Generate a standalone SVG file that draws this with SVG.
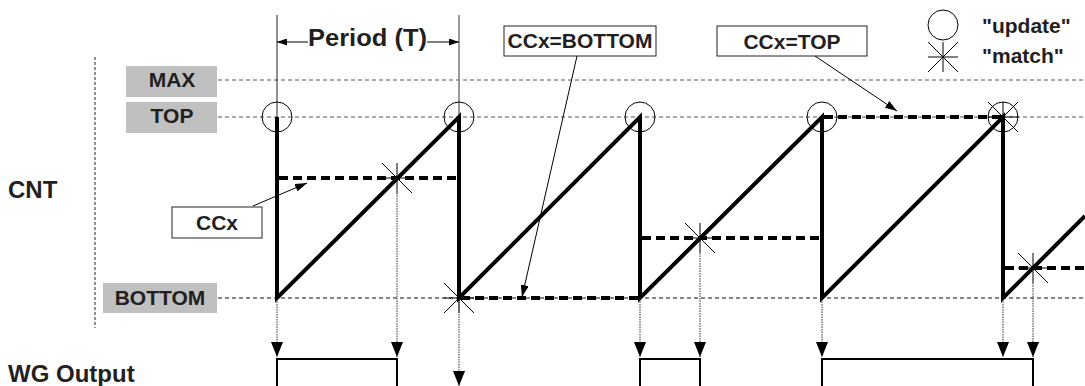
<svg xmlns="http://www.w3.org/2000/svg" width="1085" height="386" viewBox="0 0 1085 386">
<style>
text{font-family:"Liberation Sans",Arial,sans-serif;font-weight:bold;fill:#231f20}
.lbl{font-size:21px;text-anchor:middle}
.big{font-size:24px}
.gbox{fill:#c0c0c0;stroke:none}
.wbox{fill:#fff;stroke:#222;stroke-width:1}
.guide{stroke:#555;stroke-width:1;stroke-dasharray:4 3;fill:none}
.guideb{stroke:#111;stroke-width:1;stroke-dasharray:4 3;fill:none}
.wave{stroke:#000;stroke-width:4;fill:none;stroke-linejoin:miter;stroke-miterlimit:3}
.ccx{stroke:#000;stroke-width:4;stroke-dasharray:9 5;fill:none}
.thin{stroke:#000;stroke-width:1;fill:none}
.drop{stroke:#333;stroke-width:1;stroke-dasharray:1.5 1;fill:none}
.pulse{stroke:#000;stroke-width:2;fill:none}
.upd{stroke:#000;stroke-width:1;fill:none}
</style>
<defs>
<marker id="ah" viewBox="0 0 15 12" refX="15" refY="6" markerWidth="15" markerHeight="12" markerUnits="userSpaceOnUse" orient="auto"><path d="M0,0 L15,6 L0,12 z" fill="#000"/></marker>
<marker id="as" viewBox="0 0 12 8" refX="12" refY="4" markerWidth="12" markerHeight="8" markerUnits="userSpaceOnUse" orient="auto"><path d="M0,0 L12,4 L0,8 z" fill="#000"/></marker>
<marker id="ap" viewBox="0 0 10 7" refX="10" refY="3.5" markerWidth="10" markerHeight="7" markerUnits="userSpaceOnUse" orient="auto"><path d="M0,0 L10,3.5 L0,7 z" fill="#000"/></marker>
<g id="star"><path d="M-15,-15 L15,15 M-15,15 L15,-15 M0,-15 V15 M-15,0 H15" stroke="#000" stroke-width="1" fill="none"/></g>
</defs>

<!-- axis separator -->
<path d="M95,57 V328" stroke="#222" stroke-width="1" stroke-dasharray="3 2" fill="none"/>

<g id="label-cnt"><text class="big" x="8" y="198" font-size="23">CNT</text></g>
<g id="label-wg"><text class="big" x="8" y="382" font-size="25">WG Output</text></g>

<g id="level-max"><rect class="gbox" x="126" y="66" width="91" height="31"/><text class="lbl" x="172" y="87">MAX</text></g>
<g id="level-top"><rect class="gbox" x="126" y="102" width="91" height="31"/><text class="lbl" x="172" y="123">TOP</text></g>
<g id="level-bottom"><rect class="gbox" x="103" y="283" width="114" height="30"/><text class="lbl" x="160" y="305">BOTTOM</text></g>

<!-- guide lines -->
<path class="guide" d="M218,80 H1085 M218,117 H1085"/>
<path class="guideb" d="M218,298 H1085"/>

<!-- period markers -->
<g id="period">
<path d="M277,15 V117" stroke="#222" stroke-width="1"/>
<path d="M459,15 V117" stroke="#777" stroke-width="1.5"/>
<text class="big" x="308" y="46" textLength="119" lengthAdjust="spacingAndGlyphs">Period (T)</text>
</g>

<!-- compare levels -->
<g id="ccx-levels">
<path class="ccx" d="M279,178 H459 M461,298 H640 M642,238 H822 M824,117 H1003 M1005,268 H1085"/>
</g>

<!-- counter waveform -->
<g id="counter">
<path class="wave" d="M277,117 L277,298 L459,117 L459,298 L640,117 L640,298 L822,117 L822,298 L1003,117 L1003,298 L1085,216"/>
</g>

<!-- update circles -->
<g id="updates">
<circle class="upd" cx="277" cy="117" r="15"/>
<circle class="upd" cx="459" cy="117" r="15"/>
<circle class="upd" cx="640" cy="117" r="15"/>
<circle class="upd" cx="822" cy="117" r="15"/>
<circle class="upd" cx="1003" cy="117" r="15"/>
</g>

<!-- match stars -->
<g id="matches">
<use href="#star" x="397" y="178"/>
<use href="#star" x="459" y="298"/>
<use href="#star" x="700" y="238"/>
<use href="#star" x="1003" y="117"/>
<use href="#star" x="1033" y="268"/>
</g>

<!-- WG output -->
<g id="wg-output">
<path class="pulse" d="M277,386 V359 H397 V386 M640,386 V359 H700 V386 M822,386 V359 H1033 V386"/>
</g>

<!-- callout boxes -->
<g id="box-ccx"><rect class="wbox" x="172" y="207" width="90" height="31"/><text class="lbl" x="217" y="230">CCx</text></g>
<g id="box-ccx-bottom"><rect class="wbox" x="504" y="26" width="152" height="30"/><text class="lbl" x="580" y="48">CCx=BOTTOM</text></g>
<g id="box-ccx-top"><rect class="wbox" x="717" y="26" width="150" height="30"/><text class="lbl" x="792" y="49">CCx=TOP</text></g>

<!-- legend -->
<g id="legend">
<circle class="upd" cx="943" cy="25" r="15"/>
<use href="#star" x="943" y="57"/>
<text x="982" y="33" font-size="21">"update"</text>
<text x="982" y="63" font-size="21">"match"</text>
</g>

<!-- connectors -->
<g id="connectors">
<path class="thin" d="M308,42 H277" marker-end="url(#ap)"/>
<path class="thin" d="M427,42 H459" marker-end="url(#ap)"/>
<path class="thin" d="M253,206 L307,183" marker-end="url(#as)"/>
<path class="thin" d="M577,56 L522,297" marker-end="url(#as)"/>
<path class="thin" d="M815,56 L897,111" marker-end="url(#as)"/>
<path class="drop" d="M277,299 V357" marker-end="url(#ah)"/>
<path class="drop" d="M397,193 V357" marker-end="url(#ah)"/>
<path class="drop" d="M459,299 V386" marker-end="url(#ah)"/>
<path class="drop" d="M640,299 V357" marker-end="url(#ah)"/>
<path class="drop" d="M700,253 V357" marker-end="url(#ah)"/>
<path class="drop" d="M822,299 V357" marker-end="url(#ah)"/>
<path class="drop" d="M1003,299 V357" marker-end="url(#ah)"/>
<path class="drop" d="M1033,283 V357" marker-end="url(#ah)"/>
</g>
</svg>
